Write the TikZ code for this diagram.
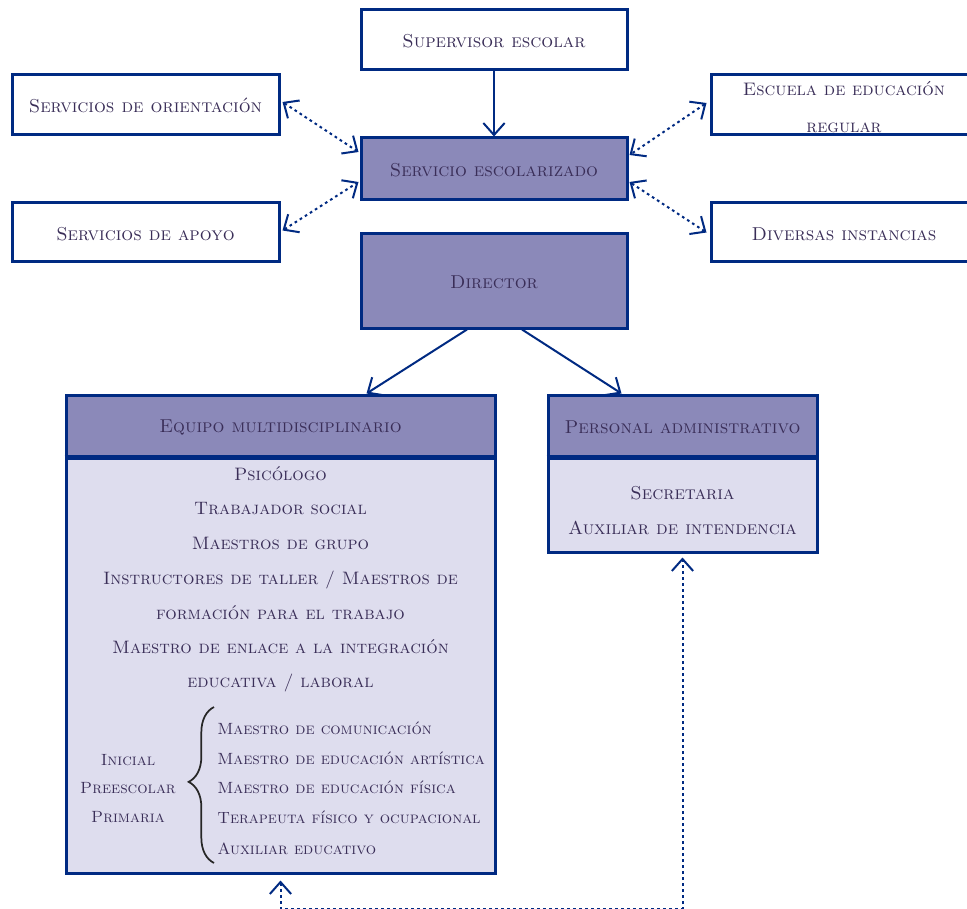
\documentclass[tikz,border=0pt]{standalone}
\usetikzlibrary{arrows.meta,fit,calc,decorations.pathreplacing}
\definecolor{bordc}{RGB}{0,42,130}
\definecolor{darkf}{RGB}{139,137,185}
\definecolor{lightf}{RGB}{222,221,238}
\definecolor{txtc}{RGB}{58,46,88}
\newcommand\dropt[1]{\raisebox{-12pt}{#1}}
\begin{document}
\begin{tikzpicture}[x=0.75pt,y=-0.75pt,
  every node/.style={font=\fontsize{14}{16}\selectfont\scshape, text=txtc},
  box/.style={draw=bordc, line width=2.25pt, inner sep=0pt, fill=white},
  darkbox/.style={box, fill=darkf},
  lightbox/.style={box, fill=lightf},
  tip/.tip={Straight Barb[length=9pt,width=16pt]},
  conn/.style={draw=bordc, line width=1.5pt, -tip},
  dotconn/.style={draw=bordc, line width=1.5pt, dash pattern=on 2pt off 2.5pt, tip-tip},
  txt/.style={anchor=base, inner sep=0pt},
  small/.style={font=\fontsize{12.2}{14}\selectfont\scshape},
  ltxt/.style={anchor=base west, inner sep=0pt, small},
]
\clip (0,0) rectangle (967,909);
\fill[white] (0,0) rectangle (967,909);

% top boxes
\node[box, fit={(361,10)(627,70)}] (sup) {\dropt{Supervisor escolar}};
\node[box, fit={(12,75)(279,135)}] (orient) {\dropt{Servicios de orientación}};
\node[box, fit={(12,203)(279,262)}] (apoyo) {\dropt{Servicios de apoyo}};
\node[box, fit={(711,75)(977,135)}] (escuela) {};
\node[align=center, font=\fontsize{13.6}{27.75}\selectfont\scshape] (esctxt) at (844,107.5) {Escuela de educación\\regular};
\node[box, fit={(711,203)(977,262)}] (divers) {\dropt{Diversas instancias}};
\node[darkbox, fit={(361,138)(627,200)}] (serv) {\dropt{Servicio escolarizado}};
\node[darkbox, fit={(361,234)(627,328)}] (dir) {\dropt{Director}};

% Equipo multidisciplinario
\node[lightbox, fit={(66,456)(495,873)}] (eqb) {};
\node[darkbox, fit={(66,395)(495,456)}] (eqh) {\dropt{Equipo multidisciplinario}};
\draw[bordc, line width=3.75pt] (eqh.south west) -- (eqh.south east);
\begin{scope}[every node/.append style={font=\fontsize{13.5}{16}\selectfont\scshape}]
\node[txt] (e1) at (280.5,480) {Psicólogo};
\node[txt] (e2) at (280.5,514.5) {Trabajador social};
\node[txt] (e3) at (280.5,549.5) {Maestros de grupo};
\node[txt] (e4) at (280.5,584) {Instructores de taller / Maestros de};
\node[txt] (e5) at (280.5,619) {formación para el trabajo};
\node[txt] (e6) at (280.5,653.5) {Maestro de enlace a la integración};
\node[txt] (e7) at (280.5,687.5) {educativa / laboral};
\end{scope}
\node[txt, small] (l1) at (128,765) {Inicial};
\node[txt, small] (l2) at (128,793) {Preescolar};
\node[txt, small] (l3) at (128,822) {Primaria};
\draw[black!85, line width=1.3pt, decorate, decoration={brace, amplitude=19pt, aspect=0.52}] (214,863) -- (214,707);
\node[ltxt] (r1) at (217,734.5) {Maestro de comunicación};
\node[ltxt] (r2) at (217,764.5) {Maestro de educación artística};
\node[ltxt] (r3) at (217,793.5) {Maestro de educación física};
\node[ltxt] (r4) at (217,823.5) {Terapeuta físico y ocupacional};
\node[ltxt] (r5) at (217,854.5) {Auxiliar educativo};

% Personal administrativo
\node[lightbox, fit={(548,456)(817,552)}] (pab) {};
\node[darkbox, fit={(548,395)(817,456)}] (pah) {\dropt{Personal administrativo}};
\draw[bordc, line width=3.75pt] (pah.south west) -- (pah.south east);
\node[txt] (p1) at (682.5,499.5) {Secretaria};
\node[txt] (p2) at (682.5,534.5) {Auxiliar de intendencia};

% connectors
\draw[conn] (sup.south) -- (serv.north);
\draw[dotconn] ($(orient.east)+(2,-3)$) -- ($(serv.west)+(-1,-17)$);
\draw[dotconn] ($(apoyo.east)+(2,-2)$) -- ($(serv.west)+(-1,13)$);
\draw[dotconn] ($(escuela.west)+(-3,-2)$) -- ($(serv.east)+(1,-14)$);
\draw[dotconn] ($(divers.west)+(-3,0)$) -- ($(serv.east)+(1,13)$);
\draw[conn] ($(dir.south)+(-27,0)$) -- ($(eqh.north east)+(-130,0)$);
\draw[conn] ($(dir.south)+(28,0)$) -- ($(pah.north west)+(75,0)$);
\draw[dotconn] ($(eqb.south)+(0,6)$) -- ++(0,28) -| ($(pab.south)+(0,4)$);
\end{tikzpicture}
\end{document}
